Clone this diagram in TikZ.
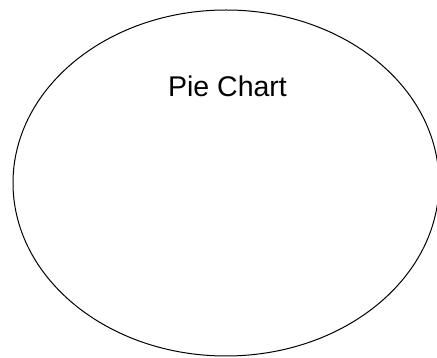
\documentclass[tikz,border=0pt]{standalone}
\usepackage{fontspec}
\setmainfont{Liberation Sans}
\usetikzlibrary{positioning,shapes.geometric}
\tikzset{
  pie/.style={draw=black,ellipse,line width=1pt,minimum width=426pt,minimum height=346pt,inner sep=0pt},
  title/.style={font=\fontsize{28.5pt}{32pt}\selectfont,inner sep=0pt,anchor=base}
}

\begin{document}
\begin{tikzpicture}[x=1pt,y=1pt]
    \useasboundingbox (0,0) rectangle (437,358);
    \node[pie] (chart) at (226,175) {};
    \node[title] (label) at (227.5,261) {Pie Chart};
  \end{tikzpicture}
\end{document}
